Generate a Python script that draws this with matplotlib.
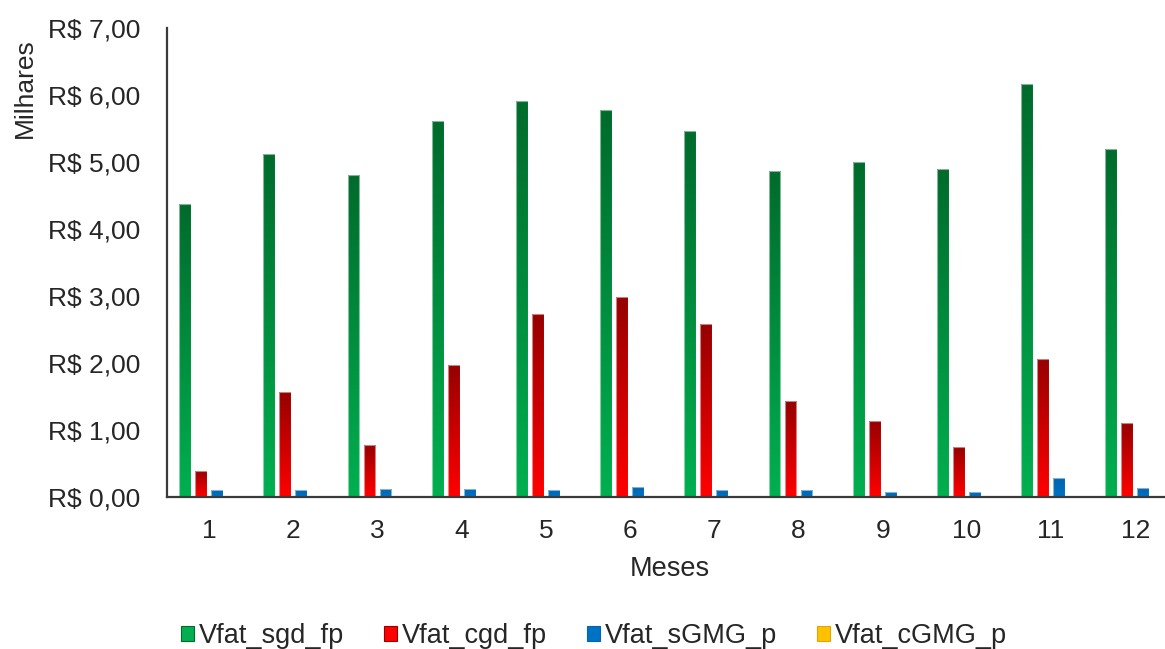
import matplotlib
matplotlib.use("Agg")
import matplotlib.pyplot as plt
import matplotlib.colors as mcolors
from matplotlib.patches import Patch
from matplotlib.ticker import FuncFormatter
import numpy as np

plt.rcParams["font.family"] = ["Liberation Sans", "DejaVu Sans"]

# Faturamento mensal (milhares de R$)
meses = [1, 2, 3, 4, 5, 6, 7, 8, 9, 10, 11, 12]
vfat_sgd_fp = [4.37, 5.12, 4.81, 5.61, 5.91, 5.78, 5.47, 4.87, 5.00, 4.89, 6.17, 5.20]
vfat_cgd_fp = [0.39, 1.56, 0.78, 1.97, 2.73, 2.99, 2.58, 1.43, 1.14, 0.75, 2.06, 1.11]
vfat_sgmg_p = [0.10, 0.10, 0.12, 0.12, 0.10, 0.15, 0.10, 0.10, 0.07, 0.07, 0.28, 0.13]
vfat_cgmg_p = [0, 0, 0, 0, 0, 0, 0, 0, 0, 0, 0, 0]

series = [
    ("Vfat_sgd_fp", vfat_sgd_fp, "#006B2C", "#00B050"),
    ("Vfat_cgd_fp", vfat_cgd_fp, "#960000", "#FF0000"),
    ("Vfat_sGMG_p", vfat_sgmg_p, "#0064B0", "#0072C4"),
    ("Vfat_cGMG_p", vfat_cgmg_p, "#E0A800", "#FFC000"),
]

fig = plt.figure(figsize=(11.65, 6.49), dpi=100)
ax = fig.add_axes([167 / 1165, 1 - 497 / 649, 1 - 167 / 1165, (497 - 28) / 649])

x = np.array(meses, dtype=float)
width = 0.142
step = 0.19
offsets = (np.arange(len(series)) - 1.5) * step
grad = np.linspace(0, 1, 256).reshape(-1, 1)

for (name, vals, top, bottom), off in zip(series, offsets):
    bars = ax.bar(x + off, vals, width=width, facecolor="none",
                  edgecolor=(1, 1, 1, 0.5), linewidth=0.8, zorder=3)
    cmap = mcolors.LinearSegmentedColormap.from_list(name, [bottom, top])
    # vertical gradient per bar, clipped to the bar rectangle
    for b in bars:
        h = b.get_height()
        if h <= 0:
            continue
        x0 = b.get_x()
        im = ax.imshow(grad, cmap=cmap, origin="lower", aspect="auto",
                       extent=(x0, x0 + b.get_width(), 0, h), zorder=2)
        im.set_clip_path(b)

ax.set_xlim(0.5, 0.5 + (1165 - 167) / 84.2)
ax.set_ylim(0, 7)
ax.set_xticks(meses)
ax.set_yticks(np.arange(0, 8, 1))
ax.yaxis.set_major_formatter(FuncFormatter(lambda v, p: "R$ " + f"{v:.2f}".replace(".", ",")))

for s in ["top", "right"]:
    ax.spines[s].set_visible(False)
for s in ["left", "bottom"]:
    ax.spines[s].set_color("#3a3a3a")
    ax.spines[s].set_linewidth(1.6)
    ax.spines[s].set_zorder(4)

ax.tick_params(axis="y", length=0, pad=19, labelsize=19, labelcolor="#262626")
ax.tick_params(axis="x", length=0, pad=16, labelsize=19, labelcolor="#262626")

fig.text(670 / 1165, 1 - 569 / 649, "Meses", ha="center", va="center",
         fontsize=19.5, color="#262626")
fig.text(25 / 1165, 1 - 88 / 649, "Milhares", ha="center", va="center",
         rotation=90, fontsize=19, color="#262626")

handles = [Patch(facecolor=bottom, edgecolor=top, linewidth=0.8, label=name)
           for name, vals, top, bottom in series]
fig.legend(handles=handles, loc="center", bbox_to_anchor=(594 / 1165, 1 - 636 / 649),
           ncol=4, frameon=False, fontsize=19.5, handlelength=0.48, handleheight=0.48,
           handletextpad=0.2, columnspacing=1.45, labelcolor="#262626")

fig.savefig("out.png", dpi=100)
